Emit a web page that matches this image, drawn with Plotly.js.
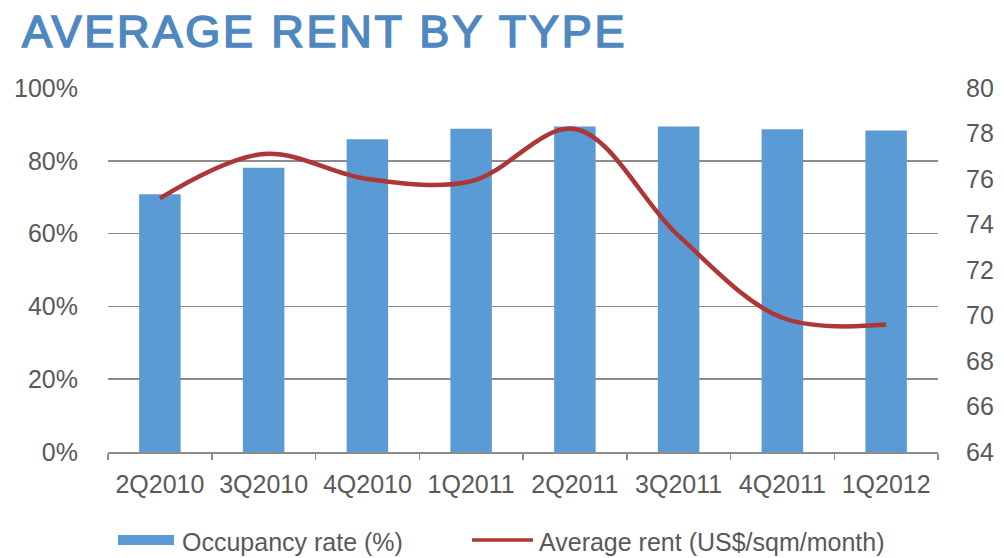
<!DOCTYPE html>
<html>
<head>
<meta charset="utf-8">
<script src="https://cdn.plot.ly/plotly-3.0.1.min.js"></script>
<style>
  html, body { margin: 0; padding: 0; background: #ffffff; }
  #chart { width: 1004px; height: 558px; }
  #chart .gtitle { letter-spacing: 2.8px; stroke: #4f87c0; stroke-width: 1.6px; }
</style>
</head>
<body>
<div id="chart"></div>
<script>
// ---- data ----
const quarters = ["2Q2010", "3Q2010", "4Q2010", "1Q2011", "2Q2011", "3Q2011", "4Q2011", "1Q2012"];
const occupancyRate = [70.8, 78.1, 85.9, 88.8, 89.4, 89.4, 88.7, 88.3];
const averageRent = [75.15, 77.1, 76.0, 75.9, 78.2, 73.5, 69.9, 69.6];
const leftTicks = [0, 20, 40, 60, 80, 100];
const rightTicks = [64, 66, 68, 70, 72, 74, 76, 78, 80];
const occupancyName = "Occupancy rate (%)";
const rentName = "Average rent (US$/sqm/month)";
const chartTitle = "AVERAGE RENT BY TYPE";

const barColor = "#5b9bd5";
const lineColor = "#ad3636";
const tickFont = { family: "Liberation Sans, Arial, sans-serif", size: 25, color: "#595959" };

const traces = [
  {
    type: "bar",
    x: quarters,
    y: occupancyRate,
    name: occupancyName,
    marker: { color: barColor },
    yaxis: "y",
    hoverinfo: "x+y"
  },
  {
    type: "scatter",
    mode: "lines",
    x: quarters,
    y: averageRent,
    name: rentName,
    line: { color: lineColor, width: 4.5, shape: "spline", smoothing: 1 },
    yaxis: "y2"
  }
];

// paper-coordinate helpers for the legend (plot area: x 108..938, y 88..452)
const L = 108, R = 938, T = 88, B = 452;
const px = v => (v - L) / (R - L);
const py = v => (B - v) / (B - T);

const layout = {
  width: 1004,
  height: 558,
  paper_bgcolor: "#ffffff",
  plot_bgcolor: "#ffffff",
  margin: { l: L, r: 1004 - R, t: T, b: 558 - B, pad: 0 },
  showlegend: false,
  bargap: 0.6,
  title: {
    text: chartTitle,
    font: { family: "Liberation Sans, Arial, sans-serif", size: 45, color: "#4f87c0" },
    xref: "container", yref: "container",
    x: 22 / 1004, xanchor: "left",
    y: 1 - 31 / 558, yanchor: "middle"
  },
  xaxis: {
    type: "category",
    tickvals: quarters,
    ticktext: quarters,
    tickfont: tickFont,
    showline: true,
    linecolor: "#8c8c8c",
    linewidth: 1.5,
    ticks: "outside",
    tickson: "boundaries",
    ticklen: 6,
    tickwidth: 1.5,
    tickcolor: "#8c8c8c",
    ticklabelstandoff: 9,
    showgrid: false,
    zeroline: false,
    fixedrange: true
  },
  yaxis: {
    range: [0, 100],
    tickvals: leftTicks,
    ticktext: leftTicks.map(v => v + "%"),
    tickfont: tickFont,
    showgrid: true,
    gridcolor: "#8c8c8c",
    gridwidth: 1.5,
    zeroline: false,
    showline: false,
    ticks: "",
    ticklabelstandoff: 29,
    fixedrange: true
  },
  yaxis2: {
    range: [64, 80],
    tickvals: rightTicks,
    ticktext: rightTicks.map(String),
    tickfont: tickFont,
    overlaying: "y",
    side: "right",
    showgrid: false,
    zeroline: false,
    showline: false,
    ticks: "",
    ticklabelstandoff: 27,
    fixedrange: true
  },
  shapes: [
    {
      type: "rect", xref: "paper", yref: "paper",
      x0: px(118), x1: px(174), y0: py(545), y1: py(535),
      fillcolor: barColor, line: { width: 0 }
    },
    {
      type: "line", xref: "paper", yref: "paper",
      x0: px(472), x1: px(533), y0: py(540), y1: py(540),
      line: { color: lineColor, width: 3.5 }
    }
  ],
  annotations: [
    {
      xref: "paper", yref: "paper", x: px(180), y: py(542),
      xanchor: "left", yanchor: "middle", showarrow: false,
      text: occupancyName, font: { family: "Liberation Sans, Arial, sans-serif", size: 25, color: "#595959" }
    },
    {
      xref: "paper", yref: "paper", x: px(537), y: py(542),
      xanchor: "left", yanchor: "middle", showarrow: false,
      text: rentName, font: { family: "Liberation Sans, Arial, sans-serif", size: 25, color: "#595959" }
    }
  ]
};

Plotly.newPlot("chart", traces, layout, { displayModeBar: false, staticPlot: true });
</script>
</body>
</html>
